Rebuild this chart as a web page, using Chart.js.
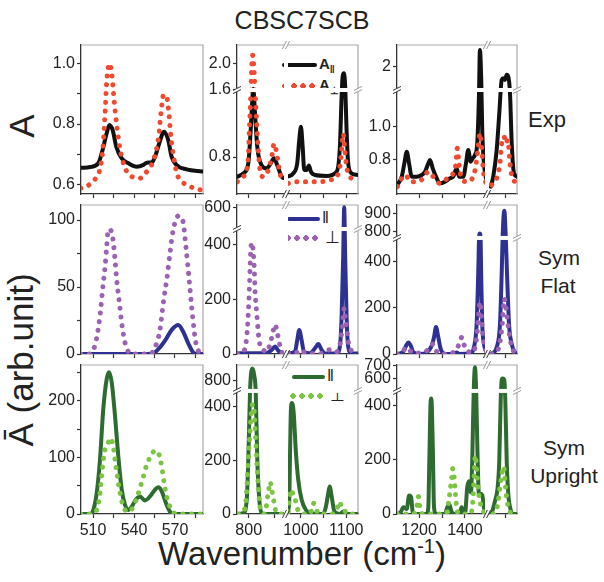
<!DOCTYPE html>
<html>
<head>
<meta charset="utf-8">
<script src="https://cdn.jsdelivr.net/npm/chart.js@4.4.1/dist/chart.umd.min.js"></script>
<style>
  body { margin: 0; background: #fff; }
  #wrap { position: relative; width: 604px; height: 582px; overflow: hidden; font-family: 'Liberation Sans', Arial, sans-serif; color: #222; }
  #wrap canvas { position: absolute; }
  .txt { position: absolute; white-space: nowrap; }
  .rot { position: absolute; white-space: nowrap; transform: translate(-50%, -50%) rotate(-90deg); }
  .ln { position: absolute; height: 4px; border-radius: 2px; }
  .dots { position: absolute; height: 6px; }
</style>
</head>
<body>
<div id="wrap">
  <div class="txt" style="left:0;width:604px;top:6px;text-align:center;font-size:25px;">CBSC7SCB</div>
  <div class="rot" style="left:22px;top:126px;font-size:35px;">A</div>
  <div class="rot" style="left:21px;top:360px;font-size:35px;">Ā (arb.unit)</div>
  <div class="txt" style="left:0;width:604px;top:535px;text-align:center;font-size:33px;">Wavenumber (cm<sup style="font-size:20px">-1</sup>)</div>
  <div class="txt" style="left:528px;top:107px;font-size:22px;">Exp</div>
  <div class="txt" style="left:538px;top:244px;width:40px;text-align:center;font-size:21px;line-height:28px;">Sym<br>Flat</div>
  <div class="txt" style="left:526px;top:434px;width:76px;text-align:center;font-size:21px;line-height:28px;">Sym<br>Upright</div>

  <div class="ln" style="left:282px;top:63px;width:35px;background:#111;"></div>
  <div class="txt" style="left:319px;top:55px;font-size:15px;font-weight:bold;">A<sub style="font-size:10px">‖</sub></div>
  <div class="dots" style="left:282px;top:83px;width:36px;background:radial-gradient(circle at 3px 3px, #ef4a2f 2.6px, transparent 3px) 0 0/9px 6px repeat-x;"></div>
  <div class="txt" style="left:319px;top:76px;font-size:15px;font-weight:bold;">A<sub style="font-size:10px">⊥</sub></div>

  <div class="ln" style="left:287px;top:217px;width:33px;background:#2e3192;"></div>
  <div class="txt" style="left:322px;top:208px;font-size:17px;">‖</div>
  <div class="dots" style="left:285px;top:235px;width:36px;background:radial-gradient(circle at 3px 3px, #9b62b3 2.6px, transparent 3px) 0 0/9px 6px repeat-x;"></div>
  <div class="txt" style="left:325px;top:227px;font-size:17px;">⊥</div>

  <div class="ln" style="left:292px;top:375px;width:33px;background:#2d6b30;"></div>
  <div class="txt" style="left:327px;top:366px;font-size:17px;">‖</div>
  <div class="dots" style="left:290px;top:393px;width:36px;background:radial-gradient(circle at 3px 3px, #7cc542 2.6px, transparent 3px) 0 0/9px 6px repeat-x;"></div>
  <div class="txt" style="left:330px;top:385px;font-size:17px;">⊥</div>
</div>
<script>
// ---- data: [wavenumber, value], null = axis break ----
const exp1Par = [[501,0.656],[508,0.659],[514,0.672],[517,0.715],[520,0.77],[522,0.797],[524.4,0.78],[527,0.726],[531,0.687],[535.6,0.672],[542,0.66],[547,0.666],[549.4,0.673],[553,0.674],[555.4,0.693],[558.5,0.737],[562,0.775],[565,0.748],[567.5,0.693],[571,0.666],[578.5,0.651],[590,0.644]];
const exp1Perp = [[501,0.589],[506,0.597],[511,0.616],[514.6,0.644],[516.3,0.682],[517.5,0.737],[518.8,0.835],[520,0.939],[522,0.999],[523.7,0.966],[525.4,0.879],[527.5,0.79],[529.9,0.715],[533.5,0.655],[538.4,0.627],[544.5,0.622],[549.4,0.644],[554.3,0.682],[558,0.758],[559.7,0.835],[561.6,0.895],[563.6,0.895],[565.3,0.846],[567,0.758],[569,0.693],[571.5,0.636],[575,0.611],[580,0.597],[586,0.586],[590,0.583]];

const exp2Par = [[778,0.565],[789.6,0.605],[799.2,0.725],[803.8,1.12],[807.7,1.56],[808.8,1.62],[812.1,1.32],[816.5,0.92],[825,0.70],[834.6,0.665],[842.3,0.725],[848.7,0.785],[855,0.70],[863.5,0.565],[866.5,0.55],[920,null],[969.7,0.565],[983,0.605],[991.8,0.725],[996.2,1.0],[1000,1.16],[1003.8,0.92],[1007.3,0.645],[1012.6,0.645],[1017.7,0.70],[1022,0.625],[1031,0.585],[1056.7,0.575],[1078.8,0.625],[1086,0.92],[1089.8,1.52],[1092,1.8],[1094.9,1.85],[1097.7,1.65],[1100.8,1.12],[1104.3,0.725],[1111.9,0.605],[1125.8,0.585]];
const exp2Perp = [[778,0.505],[789.6,0.565],[796.2,0.645],[799.2,0.8],[801.2,1.12],[803.8,1.52],[805.8,1.95],[807.7,2.12],[810.2,1.9],[812.1,1.6],[815.4,1.2],[818.5,0.88],[821.7,0.645],[828.1,0.565],[837.7,0.645],[844.2,0.8],[848.7,0.96],[853.8,0.85],[858.8,0.645],[863.5,0.525],[866.5,0.485],[920,null],[972,0.485],[986.8,0.505],[1001.5,0.505],[1019.9,0.505],[1042,0.505],[1064,0.525],[1078.8,0.565],[1086,0.685],[1089.8,0.88],[1093.3,1.08],[1097,0.88],[1100.8,0.685],[1108,0.565],[1122.9,0.525]];

const exp3Par = [[1105,0.65],[1124.8,0.70],[1136,0.78],[1146.5,0.85],[1156.5,0.78],[1168.3,0.70],[1190,0.70],[1211.7,0.71],[1226,0.73],[1240.4,0.78],[1247.8,0.80],[1259.6,0.75],[1273.9,0.70],[1291.3,0.66],[1313,0.67],[1334.8,0.69],[1349.1,0.70],[1363.9,0.75],[1373.9,0.70],[1392.6,0.70],[1404.4,0.78],[1414.4,0.86],[1424.8,0.79],[1433.5,0.81],[1443.5,0.83],[1453.5,0.90],[1460.9,1.18],[1465.2,2.43],[1470.9,1.66],[1475.2,0.98],[1482.6,0.78],[1491.3,0.69],[1510,null],[1537.8,0.64],[1549.1,0.70],[1563.9,0.86],[1575.2,1.08],[1585.7,1.66],[1592.6,1.70],[1600,1.66],[1607.4,1.79],[1614.3,1.74],[1621.7,1.2],[1629.1,0.90],[1639.1,0.72],[1652,0.70]];
const exp3Perp = [[1105.6,0.64],[1124.8,0.69],[1142.2,0.71],[1160.9,0.67],[1190,0.67],[1218.7,0.69],[1240.4,0.73],[1255.2,0.71],[1291.3,0.66],[1323,0.69],[1349.1,0.72],[1360.9,0.78],[1366.5,0.87],[1373.9,0.78],[1382.6,0.70],[1407.4,0.67],[1436.1,0.70],[1447.8,0.77],[1457.8,0.88],[1465.2,0.96],[1472.6,0.88],[1479.6,0.74],[1491.3,0.66],[1510,null],[1542.2,0.65],[1563.9,0.69],[1578.3,0.78],[1585.7,0.90],[1595.7,0.94],[1604.3,0.90],[1611.7,0.92],[1621.7,0.78],[1633.5,0.68],[1650.9,0.67]];

const flat1Par = [[501,0],[550,0],[555,1],[559,5],[562.7,10],[567.6,18],[572.4,21.6],[576,16.6],[579.7,8],[583.4,1],[586,0],[590,0]];
const flat1Perp = [[501,0],[507,0],[511.5,6.7],[514,20],[515.6,33],[517,48],[518.8,65],[520,80],[521.2,93],[523.7,91],[525.4,78],[527.3,56],[529.3,38],[531.7,18],[534.7,4],[539.6,0],[551.7,0],[555.4,5],[559,18],[561.4,38],[563.9,55],[566.3,75],[568.7,92.5],[572.4,103],[575.6,100],[578,80],[580.4,55],[582.9,28],[585.3,8],[588,1],[590,0]];

const flat2Par = [[778,2],[799.2,3],[834.6,3],[844.2,15],[850.6,27],[856.9,12],[866.5,2],[920,null],[969.7,2],[986.8,8],[991.8,51],[996.2,88],[1001.5,51],[1006.6,8],[1019.9,3],[1031,21],[1038.2,36.6],[1045.7,15],[1053,2],[1078.8,2],[1086,27],[1089.8,136],[1093.3,356],[1095.5,600],[1097.7,356],[1100.8,136],[1104.3,27],[1111.9,2],[1125.8,2]];
const flat2Perp = [[778,2],[789.6,8],[796.2,63],[799.2,149],[801.2,234],[802.5,307],[803.8,374],[805.8,407],[808.8,374],[810.8,307],[812.1,234],[815.4,149],[818.5,76],[821.7,33],[828.1,15],[834.6,8],[842.3,45],[846.2,76],[850.6,108],[855,76],[858.3,45],[863.5,8],[866.5,2],[920,null],[972,2],[990.5,5],[997.8,15],[1012.6,2],[1042,2],[1067.8,17],[1078.8,8],[1086,33],[1089.8,76],[1092,100],[1093.3,136],[1095.5,167],[1097.7,136],[1100.8,100],[1103,63],[1108,21],[1122.9,3]];

const flat3Par = [[1105,0],[1129.1,7],[1143.5,36],[1153.5,50],[1163.9,36],[1175.2,7],[1204.3,0],[1233.5,7],[1255.2,36],[1265.2,72],[1273.9,116],[1283.9,72],[1294.4,22],[1313,0],[1349.1,0],[1363.9,7],[1375.2,0],[1421.7,2],[1439.1,29],[1450.9,130],[1457.8,348],[1461.5,500],[1464.5,790],[1468,500],[1470.5,348],[1475.2,130],[1482.6,43],[1494.3,7],[1510,null],[1542.2,0],[1563.9,29],[1578.3,130],[1585.7,348],[1590,780],[1597,914],[1603,780],[1608.7,348],[1617.4,130],[1629.1,43],[1643.5,7],[1652,0]];
const flat3Perp = [[1105,0],[1124.8,7],[1146.5,29],[1160.9,14],[1182.6,2],[1211.7,7],[1233.5,14],[1250.9,29],[1259.6,43],[1273.9,14],[1298.7,0],[1327.4,0],[1356.5,14],[1378.3,50],[1385.7,72],[1392.6,50],[1407.4,14],[1436.1,7],[1450.9,72],[1457.8,145],[1465.2,224],[1472.6,145],[1479.6,72],[1491.3,14],[1510,null],[1542.2,0],[1570.9,21],[1581.3,72],[1588.3,130],[1597,239],[1604.3,200],[1611.7,136],[1618.7,87],[1629.1,29],[1643.5,7],[1652,0]];

const up1Par = [[501,0],[508,0],[510.2,7],[512.7,37],[515.1,96],[517.5,185],[520,238],[521.7,250],[523.7,232],[526.1,173],[528.5,102],[531,43],[533.4,16],[535.8,7],[538.3,13],[541.5,26],[544.4,31],[548,24],[551.7,31],[555.4,43],[557.8,47],[560.3,40],[563.4,19],[566.3,4],[568.7,0],[590,0]];
const up1Perp = [[501,0],[508,0],[512.7,7],[515.1,37],[517,84],[518.8,114],[521.2,126],[523,134],[524.9,118],[526.1,96],[527.8,66],[529.8,37],[532.2,13],[535.8,4],[539.5,13],[542,28],[544.4,46],[546.8,66],[549.3,87],[552.2,102],[555.4,112],[557.8,108],[560.3,84],[562,55],[563.9,31],[566.3,13],[570,1],[575,0],[590,0]];

const up2Par = [[778,0],[789.6,3],[796.2,53],[799.2,204],[802.5,455],[804.4,839],[806.9,872],[810.2,839],[813.5,455],[816.5,204],[820.4,53],[825,3],[834.6,0],[866.5,0],[920,null],[969.7,0],[974.2,53],[975.7,204],[977.9,392],[980.1,415],[983.9,380],[988.9,229],[994,128],[1001.5,53],[1011,15],[1019.9,3],[1049.2,0],[1055.2,28],[1060.3,78],[1063.4,103],[1067.8,66],[1072.9,15],[1078.8,3],[1086,0],[1093.3,9],[1100.8,0],[1126,0]];
const up2Perp = [[780,0],[789.6,8],[794.8,53],[797.3,128],[800,229],[802.5,305],[804.4,367],[807.7,411],[810.2,395],[812.1,329],[814,254],[816.5,166],[819.2,78],[821.7,28],[826.9,3],[829.4,0],[833.3,21],[835.8,59],[838.5,91],[841,120],[844.2,91],[847.3,59],[850.6,21],[853.8,3],[866.5,0],[920,null],[972,8],[974.2,53],[977.3,91],[981.7,78],[986.8,59],[990.5,28],[996.2,8],[1004,0],[1019.9,0],[1023.6,15],[1027.2,40],[1033.1,28],[1038.2,0],[1064,0],[1078.8,15],[1084.6,46],[1089.8,28],[1095.5,19],[1100.8,0],[1126,0]];

const up3Par = [[1105,0],[1120.4,7],[1131.7,25],[1146.5,18],[1156.5,68],[1165.2,63],[1172.6,7],[1182.6,0],[1233.5,0],[1240.4,25],[1244.8,197],[1250.9,420],[1253.5,426],[1259.6,259],[1265.2,25],[1273.9,0],[1313,0],[1323,25],[1331.7,35],[1342.2,7],[1356.5,0],[1378.3,7],[1385.7,25],[1400,0],[1410,99],[1417.4,121],[1426,80],[1431.7,197],[1437.8,443],[1443.5,690],[1449.1,443],[1455.3,197],[1460.9,73],[1468.3,75],[1475.2,70],[1483.9,18],[1491.3,0],[1510,null],[1542.2,0],[1556.5,48],[1568.3,99],[1575.2,197],[1581.3,419],[1585.7,586],[1590,600],[1597,586],[1601.3,419],[1607.4,197],[1614.3,73],[1624.8,15],[1636.1,0],[1652,0]];
const up3Perp = [[1105,0],[1175.2,0],[1187,15],[1192.6,37],[1197,64],[1201.3,37],[1207.4,11],[1216.1,0],[1313,0],[1323,11],[1331.7,62],[1339.1,111],[1343.5,142],[1346.5,167],[1352.2,142],[1356.5,99],[1360.9,49],[1366.5,11],[1378.3,0],[1421.7,0],[1431.7,23],[1436.1,73],[1440.4,148],[1444.8,216],[1449.1,185],[1453.5,136],[1457.8,87],[1465.2,49],[1472.6,23],[1482.6,7],[1491.3,0],[1510,null],[1549.1,0],[1563.9,18],[1570.9,49],[1578.3,99],[1585.7,142],[1592.6,175],[1597,160],[1601.3,110],[1607.4,60],[1614.3,23],[1621.7,7],[1636.1,0]];

// tick values and labels
const xTicks1 = [510, 525, 540, 555, 570, 585];
const xLabels1 = ['510', '', '540', '', '570', ''];
const xTicks2 = [800, 850, 1000, 1050, 1100];
const xLabels2 = ['800', '', '1000', '', '1100'];
const xTicks3 = [1200, 1300, 1400, 1600];
const xLabels3 = ['1200', '', '1400', ''];

const yTicks = {
  y11: [0.6, 0.7, 0.8, 0.9, 1.0], y12: [0.8, 1.6, 2.0], y13: [0.8, 1.0, 2],
  y21: [0, 25, 50, 75, 100], y22: [0, 200, 400, 600], y23: [0, 200, 400, 800, 900],
  y31: [0, 50, 100, 150, 200, 250], y32: [0, 200, 400, 800], y33: [0, 200, 400, 600, 700]
};
const yLabels = {
  y11: ['0.6', '', '0.8', '', '1.0'], y12: ['0.8', '1.6', '2.0'], y13: ['0.8', '1.0', '2'],
  y21: ['0', '', '50', '', '100'], y22: ['0', '200', '400', '600'], y23: ['0', '200', '400', '800', '900'],
  y31: ['0', '', '100', '', '200', ''], y32: ['0', '200', '400', '800'], y33: ['0', '200', '400', '600', '700']
};

// broken axes: value range [lo,hi] drawn over axis fraction [d0,d1]
const SEGS = {
  x1: [{lo: 501.2, hi: 590.5, d0: 0, d1: 1}],
  x2: [{lo: 777.5, hi: 871.7, d0: 0, d1: 0.405}, {lo: 967, hi: 1126, d0: 0.405, d1: 1}],
  x3: [{lo: 1104, hi: 1496, d0: 0, d1: 0.75}, {lo: 1522, hi: 1652, d0: 0.75, d1: 1}],
  y11: [{lo: 0.57, hi: 1.06, d0: 0, d1: 1}],
  y12: [{lo: 0.359, hi: 1.6, d0: 0, d1: 0.698}, {lo: 1.6, hi: 2.275, d0: 0.698, d1: 1}],
  y13: [{lo: 0.596, hi: 1.22, d0: 0, d1: 0.698}, {lo: 1.4, hi: 2.56, d0: 0.698, d1: 1}],
  y21: [{lo: 0, hi: 111.2, d0: 0, d1: 1}],
  y22: [{lo: 0, hi: 457, d0: 0, d1: 0.839}, {lo: 510, hi: 609, d0: 0.839, d1: 1}],
  y23: [{lo: 0, hi: 500, d0: 0, d1: 0.779}, {lo: 766, hi: 945, d0: 0.779, d1: 1}],
  y31: [{lo: 0, hi: 263, d0: 0, d1: 1}],
  y32: [{lo: 0, hi: 460, d0: 0, d1: 0.826}, {lo: 740, hi: 893, d0: 0.826, d1: 1}],
  y33: [{lo: 0, hi: 454, d0: 0, d1: 0.826}, {lo: 499, hi: 708, d0: 0.826, d1: 1}]
};

function segDec(key, v) {
  const segs = SEGS[key];
  for (let i = 0; i < segs.length; i++) {
    const s = segs[i];
    if (v <= s.hi || i === segs.length - 1) {
      if (v < s.lo && i > 0) return s.d0; // value sits inside the break
      return s.d0 + (v - s.lo) / (s.hi - s.lo) * (s.d1 - s.d0);
    }
  }
}
function segVal(key, d) {
  const segs = SEGS[key];
  const s = segs.find(q => d <= q.d1) || segs[segs.length - 1];
  return s.lo + (d - s.d0) / (s.d1 - s.d0) * (s.hi - s.lo);
}

class BrokenScale extends Chart.LinearScale {
  getPixelForValue(v) {
    if (v === null || v === undefined || isNaN(v)) return NaN;
    return this.getPixelForDecimal(segDec(this.options.segKey, v));
  }
  getValueForPixel(p) {
    return segVal(this.options.segKey, this.getDecimalForPixel(p));
  }
}
BrokenScale.id = 'broken';
BrokenScale.defaults = Chart.LinearScale.defaults;
Chart.register(BrokenScale);

// light top/right frame, white gaps and slashes at axis breaks
const frame = {
  id: 'frame',
  beforeDatasetsDraw(chart) {
    const {ctx, chartArea: a} = chart;
    ctx.save();
    ctx.strokeStyle = '#a9a9a9';
    ctx.lineWidth = 1.2;
    ctx.beginPath();
    ctx.moveTo(a.left, a.top);
    ctx.lineTo(a.right, a.top);
    ctx.lineTo(a.right, a.bottom);
    ctx.stroke();
    ctx.restore();
  },
  afterDatasetsDraw(chart) {
    const {ctx, chartArea: a, scales} = chart;
    ctx.save();
    ctx.lineWidth = 1;
    SEGS[scales.x.options.segKey].slice(0, -1).forEach(s => {
      const p = scales.x.getPixelForDecimal(s.d1);
      ctx.fillStyle = '#fff';
      ctx.fillRect(p - 2, a.top - 2, 4, a.bottom - a.top + 4);
      [[a.bottom, '#333'], [a.top, '#999']].forEach(([y, c]) => {
        ctx.strokeStyle = c;
        ctx.beginPath();
        [-1.6, 1.6].forEach(o => { ctx.moveTo(p + o - 2, y + 4); ctx.lineTo(p + o + 2, y - 4); });
        ctx.stroke();
      });
    });
    SEGS[scales.y.options.segKey].slice(0, -1).forEach(s => {
      const p = scales.y.getPixelForDecimal(s.d1);
      ctx.fillStyle = '#fff';
      ctx.fillRect(a.left - 2, p - 2, a.right - a.left + 4, 4);
      [[a.left, '#333'], [a.right, '#999']].forEach(([x, c]) => {
        ctx.strokeStyle = c;
        ctx.beginPath();
        [-1.6, 1.6].forEach(o => { ctx.moveTo(x - 4, p + o + 2); ctx.lineTo(x + 4, p + o - 2); });
        ctx.stroke();
      });
    });
    ctx.restore();
  }
};

const BLACK = '#111111', RED = '#ef4a2f', NAVY = '#2e3192', PURPLE = '#9b62b3', DKGREEN = '#2d6b30', LTGREEN = '#7cc542';
const blank = t => t.map(() => '');

const cols = [
  {left: 81, w: 122, x: 'x1', xt: xTicks1, xl: xLabels1},
  {left: 237, w: 121, x: 'x2', xt: xTicks2, xl: xLabels2},
  {left: 397, w: 120, x: 'x3', xt: xTicks3, xl: xLabels3}
];
const rows = [{top: 45, h: 149}, {top: 205, h: 149}, {top: 365, h: 149}];

const panels = [
  [0, 0, 'y11', [[exp1Perp, RED, true], [exp1Par, BLACK, false]]],
  [0, 1, 'y12', [[exp2Perp, RED, true], [exp2Par, BLACK, false]]],
  [0, 2, 'y13', [[exp3Perp, RED, true], [exp3Par, BLACK, false]]],
  [1, 0, 'y21', [[flat1Perp, PURPLE, true], [flat1Par, NAVY, false]]],
  [1, 1, 'y22', [[flat2Perp, PURPLE, true], [flat2Par, NAVY, false]]],
  [1, 2, 'y23', [[flat3Perp, PURPLE, true], [flat3Par, NAVY, false]]],
  [2, 0, 'y31', [[up1Perp, LTGREEN, true], [up1Par, DKGREEN, false]]],
  [2, 1, 'y32', [[up2Perp, LTGREEN, true], [up2Par, DKGREEN, false]]],
  [2, 2, 'y33', [[up3Perp, LTGREEN, true], [up3Par, DKGREEN, false]]]
];

const tickFont = {family: "'Liberation Sans', Arial, sans-serif", size: 16};

panels.forEach(([r, c, yKey, series]) => {
  const col = cols[c], row = rows[r];
  const cv = document.createElement('canvas');
  cv.width = col.w + 58;
  cv.height = row.h + 46;
  cv.style.left = (col.left - 48) + 'px';
  cv.style.top = (row.top - 12) + 'px';
  document.getElementById('wrap').appendChild(cv);

  const xLab = r === 2 ? col.xl : blank(col.xt);
  const xs = SEGS[col.x], ys = SEGS[yKey];

  new Chart(cv, {
    type: 'line',
    data: {
      datasets: series.map(([pts, color, dotted]) => ({
        data: pts.map(p => ({x: p[0], y: p[1]})),
        borderColor: color,
        borderWidth: dotted ? 5 : 4,
        borderDash: dotted ? [0.1, 8.6] : [],
        borderCapStyle: 'round',
        borderJoinStyle: 'round',
        pointRadius: 0,
        cubicInterpolationMode: 'monotone',
        spanGaps: false,
        fill: false
      }))
    },
    options: {
      responsive: false,
      animation: false,
      events: [],
      layout: {padding: {top: 12, right: 10, left: 0, bottom: 0}},
      plugins: {legend: {display: false}, tooltip: {enabled: false}},
      scales: {
        x: {
          type: 'broken', segKey: col.x,
          min: xs[0].lo, max: xs[xs.length - 1].hi,
          afterFit: s => { s.height = 34; },
          afterBuildTicks: s => { s.ticks = col.xt.map(v => ({value: v})); },
          ticks: {callback: (v, i) => xLab[i], font: tickFont, color: '#222', padding: 3, maxRotation: 0, autoSkip: false},
          grid: {drawOnChartArea: false, tickLength: 4, tickColor: '#333', tickWidth: 1.2},
          border: {color: '#333', width: 1.3}
        },
        y: {
          type: 'broken', segKey: yKey,
          min: ys[0].lo, max: ys[ys.length - 1].hi,
          afterFit: s => { s.width = 48; },
          afterBuildTicks: s => { s.ticks = yTicks[yKey].map(v => ({value: v})); },
          ticks: {callback: (v, i) => yLabels[yKey][i], font: tickFont, color: '#222', padding: 2, autoSkip: false},
          grid: {drawOnChartArea: false, tickLength: 4, tickColor: '#333', tickWidth: 1.2},
          border: {color: '#333', width: 1.3}
        }
      }
    },
    plugins: [frame]
  });
});
</script>
</body>
</html>
